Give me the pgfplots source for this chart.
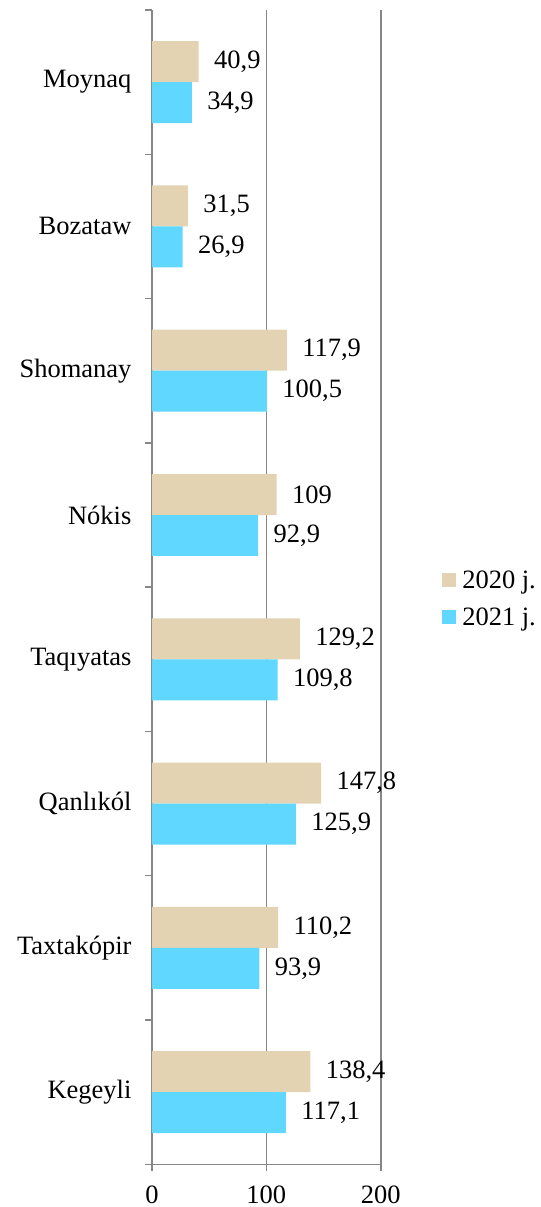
\documentclass[border=0pt]{standalone}
\usepackage{fontspec}
\setmainfont{Liberation Serif}
\usepackage{pgfplots}
\pgfplotsset{compat=1.18}
\definecolor{c2020}{RGB}{227,211,179}
\definecolor{c2021}{RGB}{95,215,255}
\definecolor{axgray}{RGB}{134,134,134}
\newcommand{\lf}{\fontsize{26.5bp}{30bp}\selectfont}
\begin{document}
\begin{tikzpicture}
  \begin{axis}[
      scale only axis,
      width=229bp, height=1155bp,
      xbar, bar width=41bp,
      xmin=0, xmax=200,
      ymin=-0.5, ymax=7.5,
      xtick={0,100,200},
      ytick={-0.5,0.5,...,7.5},
      yticklabels={},
      extra y ticks={0,...,7},
      extra y tick labels={Kegeyli,Taxtakópir,Qanlıkól,Taqıyatas,Nókis,Shomanay,Bozataw,Moynaq},
      extra y tick style={major tick length=0pt, tick style={draw=none}, grid=none},
      axis x line*=bottom, axis y line*=left,
      axis line style={axgray, line width=1.5bp},
      tick align=outside,
      major tick length=7bp,
      tick style={axgray, line width=1.5bp},
      xmajorgrids, grid style={axgray, line width=1.5bp},
      tick label style={font=\lf, text=black},
      /pgf/number format/assume math mode=true,
      yticklabel style={xshift=-17bp},
      xticklabel style={yshift=-11bp},
      nodes near coords,
      nodes near coords style={font=\lf, text=black, anchor=west, xshift=12bp,
        /pgf/number format/.cd, use comma, fixed, precision=1, 1000 sep={}},
      legend style={draw=none, fill=none, font=\lf, at={(1.255,0.49)}, anchor=west,
        row sep=14bp},
      legend cell align=left,
      legend image code/.code={\fill[#1] (0bp,-7bp) rectangle (14bp,7bp); \path (18bp,0bp);},
    ]
    \addplot[fill=c2020, draw=none, bar shift=20.5bp] coordinates {
      (138.4,0) (110.2,1) (147.8,2) (129.2,3) (109,4) (117.9,5) (31.5,6) (40.9,7)
    };
    \addplot[fill=c2021, draw=none, bar shift=-20.5bp] coordinates {
      (117.1,0) (93.9,1) (125.9,2) (109.8,3) (92.9,4) (100.5,5) (26.9,6) (34.9,7)
    };
    \legend{2020 j., 2021 j.}
  \end{axis}
  \path (current axis.south west) ++(-152bp,-42bp) rectangle ++(536bp,1207bp);
\end{tikzpicture}
\end{document}
